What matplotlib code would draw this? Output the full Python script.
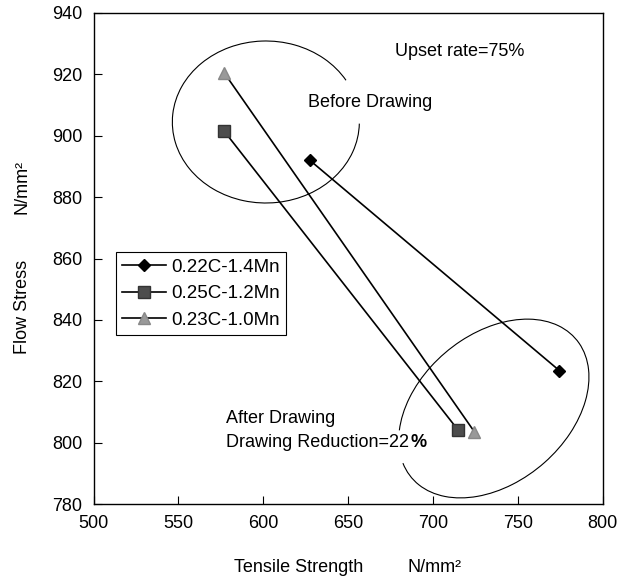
import numpy as np
import matplotlib
matplotlib.use("Agg")
import matplotlib.pyplot as plt
from matplotlib.patches import Arc
from matplotlib.transforms import Affine2D

plt.rcParams['font.family'] = ['Liberation Sans', 'DejaVu Sans']

# data: (tensile strength, flow stress) before and after drawing
series_names = ['0.22C-1.4Mn', '0.25C-1.2Mn', '0.23C-1.0Mn']
tensile = [[627.5, 774.5], [577, 715], [577, 724.5]]
flow = [[892, 823.5], [901.5, 804], [920.5, 803.5]]

x_ticks = [500, 550, 600, 650, 700, 750, 800]
y_ticks = [780, 800, 820, 840, 860, 880, 900, 920, 940]

fig = plt.figure(figsize=(6.32, 5.80), dpi=100)
ax = fig.add_axes([0.148, 0.131, 0.8054, 0.8466])

styles = [
    dict(marker='D', ms=6.5, mfc='black', mec='black'),
    dict(marker='s', ms=8, mfc='#4d4d4d', mec='#333333'),
    dict(marker='^', ms=9, mfc='#999999', mec='#888888'),
]
for name, xs, ys, st in zip(series_names, tensile, flow, styles):
    ax.plot(xs, ys, color='black', lw=1.2, label=name, **st)

ax.set_xlim(500, 800)
ax.set_ylim(780, 940)
ax.set_xticks(x_ticks)
ax.set_yticks(y_ticks)
ax.tick_params(direction='in', length=6, width=0.8, labelsize=13, pad=8)
for sp in ax.spines.values():
    sp.set_linewidth(1.0)

# ellipses drawn in axis pixel units (reference axis 509 x 491 px)
px = Affine2D().scale(1 / 509, 1 / 491) + ax.transAxes
ax.add_patch(Arc((172.3, 382), 187, 162, angle=0, theta1=27.5, theta2=359,
                 transform=px, color='black', lw=0.8))
ax.add_patch(Arc((400.3, 95.5), 215, 148, angle=40, theta1=171, theta2=153,
                 transform=px, color='black', lw=0.8))

ax.text(677.6, 927.4, 'Upset rate=75%', fontsize=13, va='center')
ax.text(626.3, 910.7, 'Before Drawing', fontsize=13, va='center')
ax.text(578, 807.8, 'After Drawing', fontsize=13, va='center')
t = ax.text(578, 800, 'Drawing Reduction=22', fontsize=13, va='center')
ax.annotate('%', xy=(1, 0), xycoords=t, xytext=(1, 0), textcoords='offset points',
            fontsize=13, fontweight='bold', va='bottom')

leg = ax.legend(loc='upper left', bbox_to_anchor=(0.0438, 0.513), fontsize=13.5,
                frameon=True, fancybox=False, edgecolor='black', framealpha=1,
                handlelength=2.3, handletextpad=0.3, borderpad=0.35,
                labelspacing=0.5, borderaxespad=0)
leg.get_frame().set_linewidth(0.8)

fig.text(0.472, 0.0207, 'Tensile Strength', fontsize=13, ha='center', va='center')
fig.text(0.687, 0.0207, 'N/mm²', fontsize=13, ha='center', va='center')
fig.text(0.035, 0.47, 'Flow Stress', fontsize=13, rotation=90, ha='center', va='center')
fig.text(0.035, 0.678, 'N/mm²', fontsize=13, rotation=90, ha='center', va='center')

fig.savefig('out.png', dpi=100)
